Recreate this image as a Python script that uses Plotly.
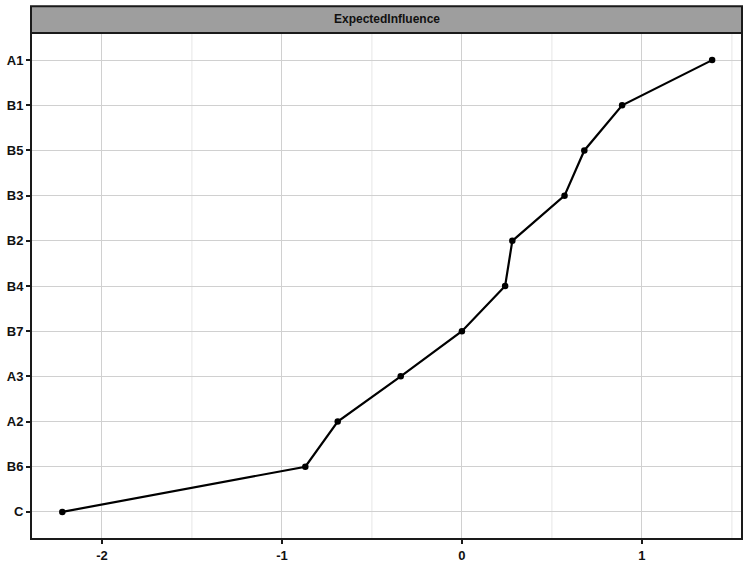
import plotly.graph_objects as go

# centrality plot: expected influence (z-scores) per node
nodes = ["C", "B6", "A2", "A3", "B7", "B4", "B2", "B3", "B5", "B1", "A1"]
expected_influence = [-2.22, -0.87, -0.69, -0.34, 0.0, 0.24, 0.28, 0.57, 0.68, 0.89, 1.39]
x_ticks = [-2, -1, 0, 1]
x_tick_labels = ["-2", "-1", "0", "1"]
x_minor = [-2.5, -1.5, -0.5, 0.5, 1.5]
strip_title = "ExpectedInfluence"

bold = {"size": 13, "color": "#111111", "weight": "bold"}

fig = go.Figure(go.Scatter(
    x=expected_influence, y=nodes, mode="lines+markers",
    line={"color": "black", "width": 2.2},
    marker={"color": "black", "size": 6.5},
    showlegend=False, cliponaxis=False,
))

# minor gridlines like ggplot theme_bw
for xm in x_minor:
    fig.add_shape(type="line", xref="x", yref="paper", x0=xm, x1=xm, y0=0, y1=1,
                  line={"color": "#e6e6e6", "width": 1}, layer="below")

# panel border and facet strip
fig.add_shape(type="rect", xref="paper", yref="paper", x0=0, x1=1, y0=0, y1=1,
              line={"color": "#1a1a1a", "width": 2})
fig.add_shape(type="rect", xref="paper", yref="paper", x0=0, x1=1, y0=1.0, y1=1.053,
              fillcolor="#9e9e9e", line={"color": "#1a1a1a", "width": 2})
fig.add_annotation(text=strip_title, xref="paper", yref="paper", x=0.5, y=1.027,
                   yanchor="middle", showarrow=False, font={**bold, "size": 12})

fig.update_xaxes(
    range=[-2.394, 1.556], tickvals=x_ticks, ticktext=x_tick_labels,
    showgrid=True, gridcolor="#d0d0d0", gridwidth=1, zeroline=False,
    ticks="outside", ticklen=4, tickcolor="#1a1a1a", tickwidth=1.5,
    tickfont=bold, showline=False, automargin=False,
)
fig.update_yaxes(
    type="category", categoryorder="array", categoryarray=nodes, range=[-0.6, 10.6],
    showgrid=True, gridcolor="#d0d0d0", gridwidth=1, zeroline=False,
    ticks="outside", ticklen=4, tickcolor="#1a1a1a", tickwidth=1.5,
    tickfont=bold, showline=False, automargin=False,
)
fig.update_layout(
    width=750, height=563,
    margin={"l": 31, "r": 8, "t": 33, "b": 24},
    plot_bgcolor="white", paper_bgcolor="white",
    font={"family": "Liberation Sans Narrow, Liberation Sans, Arial, sans-serif"},
)
fig.write_html("out.html", config={"displayModeBar": False},
               post_script="document.body.style.margin = '0px';")
